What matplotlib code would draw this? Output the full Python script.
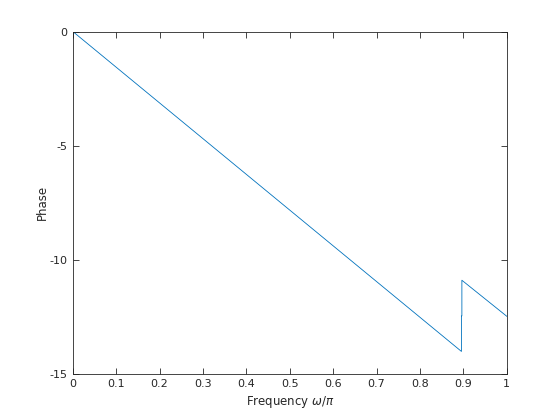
import matplotlib
matplotlib.use("Agg")
import matplotlib.pyplot as plt

freq = [0.0, 0.8955, 0.8955, 0.8965, 0.8965, 1.0]
phase = [0.0, -14.02, -12.46, -12.46, -10.90, -12.48]

x_ticks = [0, 0.1, 0.2, 0.3, 0.4, 0.5, 0.6, 0.7, 0.8, 0.9, 1]
x_labels = ["0", "0.1", "0.2", "0.3", "0.4", "0.5", "0.6", "0.7", "0.8", "0.9", "1"]
y_ticks = [-15, -10, -5, 0]
y_labels = ["-15", "-10", "-5", "0"]

plt.rcParams["font.family"] = "DejaVu Sans"
plt.rcParams["font.size"] = 8
plt.rcParams["mathtext.fontset"] = "dejavusans"

fig = plt.figure(figsize=(5.6, 4.2), dpi=100)
ax = fig.add_axes([0.13, 0.11, 0.775, 0.815])

ax.plot(freq, phase, color=(0, 0.447, 0.741), linewidth=0.6)

ax.set_xlim(0, 1)
ax.set_ylim(-15, 0)
ax.set_xticks(x_ticks)
ax.set_xticklabels(x_labels)
ax.set_yticks(y_ticks)
ax.set_yticklabels(y_labels)

grey = (0.15, 0.15, 0.15)
ax.tick_params(direction="in", top=True, right=True, length=4, width=0.6,
               colors=grey, labelcolor=grey, labelsize=8, pad=4)
for s in ax.spines.values():
    s.set_color(grey)
    s.set_linewidth(0.6)

ax.set_xlabel(r"Frequency $\omega/\pi$", color=grey, fontsize=8.5, labelpad=3)
ax.set_ylabel("Phase", color=grey, fontsize=8.5, labelpad=0)

fig.savefig("out.png", dpi=100)
